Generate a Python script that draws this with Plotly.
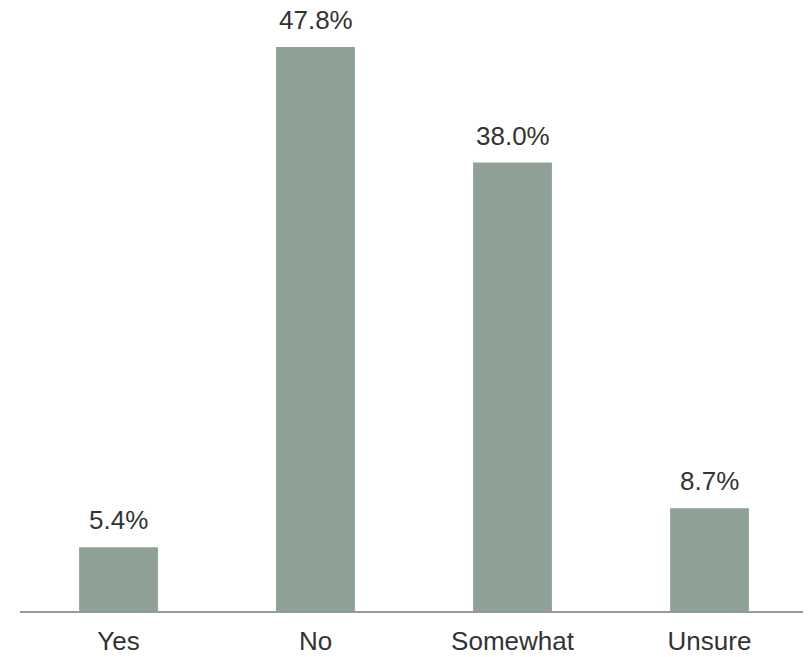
import plotly.graph_objects as go

categories = ["Yes", "No", "Somewhat", "Unsure"]
values = [5.4, 47.8, 38.0, 8.7]
labels = [f"{v:.1f}%" for v in values]

FONT = "Liberation Sans, Arial, sans-serif"
TXT = "#333333"

fig = go.Figure(go.Bar(
    x=categories, y=values,
    marker=dict(color="#8FA196", line=dict(width=0)),
    width=0.4, hoverinfo="skip",
))
for c, v, t in zip(categories, values, labels):
    fig.add_annotation(x=c, y=v, text=t, showarrow=False, yanchor="bottom",
                       yshift=10, font=dict(family=FONT, size=26, color=TXT))

fig.update_layout(
    width=803, height=649,
    margin=dict(l=12, r=3, t=0, b=46),
    plot_bgcolor="white", paper_bgcolor="white",
    font=dict(family=FONT, size=26, color=TXT),
    showlegend=False,
    xaxis=dict(showline=True, linecolor="#999999", linewidth=2, ticks="outside",
               ticklen=6, tickcolor="rgba(0,0,0,0)", showgrid=False,
               tickfont=dict(family=FONT, size=26, color=TXT)),
    yaxis=dict(visible=False, range=[0, 51.1], showgrid=False, zeroline=False),
)
fig.write_html("out.html")
